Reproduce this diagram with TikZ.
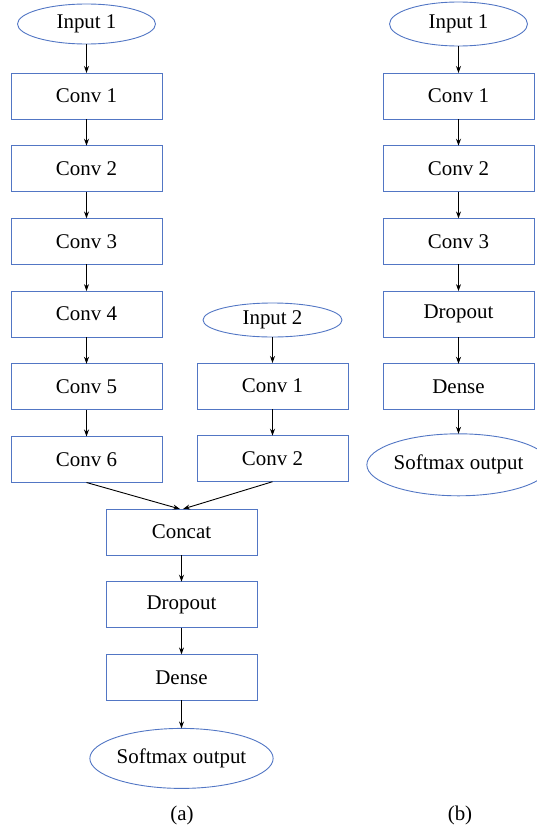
\documentclass[tikz,border=0pt]{standalone}
\usepackage{fontspec}
\setmainfont{Liberation Serif}
\usepackage{tikz}
\usetikzlibrary{shapes.geometric, positioning, arrows.meta}
\definecolor{boxblue}{RGB}{82,118,196}

\begin{document}
\begin{tikzpicture}[x = 1bp, y = -1bp, node distance = 26.7bp,
            every node/.style = {font = \fontsize{21}{25}\selectfont, inner sep = 0pt, outer sep = 0pt},
            convbox/.style = {draw = boxblue, line width = 0.9bp, minimum width = 151bp, minimum height = 46bp},
            inputnode/.style = {draw = boxblue, line width = 0.9bp, ellipse, minimum width = 138bp, minimum height = 40bp},
            softmaxnode/.style = {inputnode, minimum width = 168bp, minimum height = 60bp},
            flow/.style = {-{Stealth[length = 7bp, width = 5bp]}, line width = 0.9bp}]
            \useasboundingbox (0,0) rectangle (537,829);
            % (a)
            \node[inputnode] (in1a) at (86.5,24) {Input 1};
            \node[convbox, below = 29bp of in1a] (c1a) {Conv 1};
            \node[convbox, below = of c1a] (c2a) {Conv 2};
            \node[convbox, below = of c2a] (c3a) {Conv 3};
            \node[convbox, below = of c3a] (c4a) {Conv 4};
            \node[convbox, below = of c4a] (c5a) {Conv 5};
            \node[convbox, below = of c5a] (c6a) {Conv 6};
            \node[inputnode, minimum height = 34bp, minimum width = 139bp] (in2a) at (272.5,320) {Input 2};
            \node[convbox, below = 26bp of in2a] (d1a) {Conv 1};
            \node[convbox, below = of d1a] (d2a) {Conv 2};
            \node[convbox] (cata) at (181.5,532) {Concat};
            \node[convbox, below = of cata] (dropa) {Dropout};
            \node[convbox, below = of dropa] (densea) {Dense};
            \node[softmaxnode, below = 28bp of densea] (outa) {Softmax output};
            \node (capa) at (182,815) {(a)};
            % (b)
            \node[inputnode, minimum height = 44bp] (in1b) at (458.5,24) {Input 1};
            \node[convbox, below = 27bp of in1b] (c1b) {Conv 1};
            \node[convbox, below = of c1b] (c2b) {Conv 2};
            \node[convbox, below = of c2b] (c3b) {Conv 3};
            \node[convbox, below = of c3b] (dropb) {Dropout};
            \node[convbox, below = of dropb] (denseb) {Dense};
            \node[softmaxnode, minimum height = 62bp, minimum width = 166bp, below = 24bp of denseb] (outb) {Softmax output};
            \node (capb) at (460,815) {(b)};
            \foreach \a/\b in {in1a/c1a, c1a/c2a, c2a/c3a, c3a/c4a, c4a/c5a, c5a/c6a,
                               in2a/d1a, d1a/d2a, cata/dropa, dropa/densea, densea/outa,
                               in1b/c1b, c1b/c2b, c2b/c3b, c3b/dropb, dropb/denseb, denseb/outb}
                \draw[flow] (\a) -- (\b);
            \draw[flow] (c6a.south) -- ([xshift = -1.5bp]cata.north);
            \draw[flow] (d2a.south) -- ([xshift = 1.5bp]cata.north);
        \end{tikzpicture}
\end{document}
